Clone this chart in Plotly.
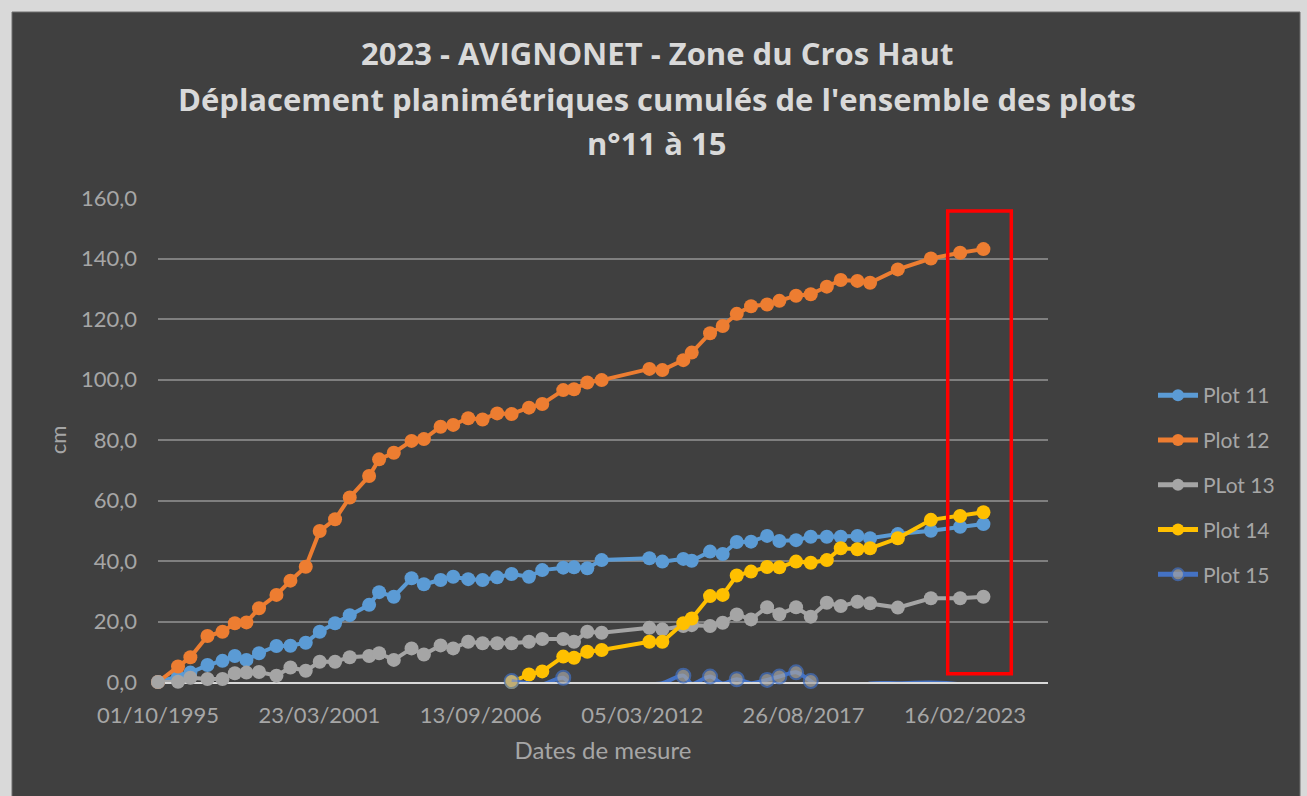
import plotly.graph_objects as go

# ---------------- data ----------------
DATES = [
    "1995-10-01", "1996-06-05", "1996-11-05", "1997-06-05", "1997-12-08", "1998-05-10",
    "1998-10-01", "1999-03-06", "1999-10-08", "2000-03-29", "2000-10-05", "2001-03-27",
    "2001-10-03", "2002-04-03", "2002-11-29", "2003-04-02", "2003-10-01", "2004-05-08",
    "2004-10-08", "2005-05-03", "2005-10-06", "2006-04-10", "2006-10-05", "2007-04-04",
    "2007-09-30", "2008-05-02", "2008-10-14", "2009-07-01", "2009-11-11", "2010-04-25",
    "2010-10-20", "2012-06-02", "2012-11-10", "2013-07-28", "2013-11-09", "2014-06-24",
    "2014-11-28", "2015-05-21", "2015-11-14", "2016-05-31", "2016-10-30", "2017-05-25",
    "2017-11-23", "2018-06-10", "2018-11-30", "2019-06-24", "2019-11-28", "2020-11-06",
    "2021-12-21", "2022-12-18", "2023-10-03",
]

PLOT_11 = [
    0.0, 1.8, 3.1, 5.6, 7.0, 8.6, 7.3, 9.5, 11.9, 12.0, 13.0, 16.6, 19.4, 22.1, 25.5,
    29.7, 28.2, 34.3, 32.3, 33.7, 34.8, 34.0, 33.7, 34.6, 35.7, 34.8, 37.0, 37.8, 37.9,
    37.6, 40.3, 40.9, 39.8, 40.7, 40.1, 43.1, 42.3, 46.3, 46.4, 48.3, 46.6, 46.9, 48.0,
    48.0, 48.0, 48.3, 47.5, 48.9, 50.0, 51.3, 52.2,
]
PLOT_12 = [
    0.0, 5.1, 8.2, 15.2, 16.6, 19.4, 19.7, 24.4, 28.8, 33.5, 38.1, 49.9, 53.8, 61.0, 68.1,
    73.6, 75.8, 79.7, 80.3, 84.4, 85.0, 87.2, 86.8, 88.8, 88.6, 90.7, 91.9, 96.5, 96.8,
    99.0, 99.8, 103.5, 103.1, 106.4, 108.9, 115.3, 117.7, 121.7, 124.2, 124.8, 126.0,
    127.7, 128.2, 130.7, 132.9, 132.6, 132.0, 136.4, 140.0, 141.9, 143.1,
]
PLOT_13 = [
    0.0, 0.1, 1.4, 1.0, 1.0, 2.9, 3.1, 3.3, 2.1, 4.8, 3.7, 6.7, 6.7, 8.2, 8.6, 9.5, 7.3,
    11.1, 9.1, 12.1, 11.1, 13.3, 12.8, 12.8, 12.8, 13.3, 14.2, 14.2, 13.3, 16.6, 16.3,
    17.9, 17.4, 18.5, 18.8, 18.5, 19.6, 22.3, 20.7, 24.7, 22.4, 24.7, 21.6, 26.2, 25.1,
    26.5, 26.0, 24.6, 27.7, 27.7, 28.2,
]
# Plots 14 and 15 start on 2007-09-30 (index 24 of DATES)
DATES_14_15 = DATES[24:]
PLOT_14 = [
    0.0, 2.5, 3.5, 8.4, 8.0, 10.0, 10.6, 13.3, 13.3, 19.4, 21.0, 28.4, 28.8, 35.2, 36.5,
    38.0, 37.9, 39.8, 39.4, 40.3, 44.2, 43.9, 44.2, 47.5, 53.6, 54.9, 56.1,
]
PLOT_15 = [
    0.3, -0.5, -0.8, 1.4, -2.5, -4.0, -3.5, -0.8, -0.4, 2.1, -0.6, 1.8, -0.5, 0.9, -0.4,
    0.7, 1.8, 3.2, 0.3, -3.0, -4.0, -2.0, -0.5, -0.4, -0.2, -0.8, -3.0,
]

SERIES_NAMES = ["Plot 11", "Plot 12", "PLot 13", "Plot 14", "Plot 15"]
X_TICKS = ["1995-10-01", "2001-03-23", "2006-09-13", "2012-03-05", "2017-08-26", "2023-02-16"]
X_TICK_LABELS = ["01/10/1995", "23/03/2001", "13/09/2006", "05/03/2012", "26/08/2017", "16/02/2023"]
Y_TICKS = [0, 20, 40, 60, 80, 100, 120, 140, 160]

TITLE_LINES = [
    "2023 - AVIGNONET - Zone du Cros Haut",
    "Déplacement planimétriques cumulés de l'ensemble des plots",
    "n°11 à 15",
]
X_TITLE = "Dates de mesure"
Y_TITLE = "cm"

# ---------------- style ----------------
W, H = 1307, 796
L, R, T, B = 158, 1048, 198, 682   # plot area in pixels
FONT = "Lato"
TXT = "#A6A6A6"
BG = "#404040"


def px_x(px):
    return (px - L) / (R - L)


def px_y(py):
    return (B - py) / (B - T)


fig = go.Figure()

colors = ["#5B9BD5", "#ED7D31", "#A5A5A5", "#FFC000", "#4472C4"]
xs = [DATES, DATES, DATES, DATES_14_15, DATES_14_15]
ys = [PLOT_11, PLOT_12, PLOT_13, PLOT_14, PLOT_15]

for i, (name, x, y, c) in enumerate(zip(SERIES_NAMES, xs, ys, colors)):
    if i < 4:
        marker = dict(size=14, color=c, line=dict(width=0))
        line = dict(color=c, width=4)
    else:
        # points outside the axis range show no marker (as in the source chart)
        sizes = [14 if v >= 0 else 0 for v in y]
        widths = [2 if v >= 0 else 0 for v in y]
        marker = dict(size=sizes, color="#A5A5A5", line=dict(color=c, width=widths))
        line = dict(color=c, width=4, shape="spline", smoothing=0.8)
    fig.add_trace(go.Scatter(
        x=x, y=y, name=name, mode="lines+markers",
        line=line, marker=marker, cliponaxis=False,
        legendgroup=name,
    ))

shapes = [
    # dark chart area inside the light frame
    dict(type="rect", xref="paper", yref="paper", layer="below",
         x0=px_x(12), x1=px_x(1300), y0=px_y(800), y1=px_y(12),
         fillcolor=BG, line=dict(color="#6E6E6E", width=1)),
    # red highlight box
    dict(type="rect", xref="paper", yref="paper", layer="above",
         x0=px_x(947.7), x1=px_x(1011.3), y0=px_y(673.7), y1=px_y(211),
         fillcolor="rgba(0,0,0,0)", line=dict(color="#FF0000", width=3.5)),
]

title_y = [53, 99, 143]
annotations = [
    dict(text=f"<b>{t}</b>", xref="paper", yref="paper", x=px_x(656.5), y=px_y(py),
         xanchor="center", yanchor="middle", showarrow=False,
         font=dict(family="Open Sans", size=31, color="#D9D9D9"))
    for t, py in zip(TITLE_LINES, title_y)
]

fig.update_layout(
    width=W, height=H,
    margin=dict(l=L, r=W - R, t=T, b=H - B, pad=0),
    paper_bgcolor="#D9D9D9",
    plot_bgcolor=BG,
    separators=", ",
    font=dict(family=FONT, size=21, color=TXT),
    showlegend=True,
    legend=dict(
        x=px_x(1153), y=px_y(375), xanchor="left", yanchor="top",
        bgcolor="rgba(0,0,0,0)", font=dict(family=FONT, size=21, color=TXT),
        tracegroupgap=14.5, itemwidth=40, itemsizing="constant",
    ),
    shapes=shapes,
    annotations=annotations,
    xaxis=dict(
        type="date",
        range=["1995-10-01", "2025-12-11"],
        tickvals=X_TICKS, ticktext=X_TICK_LABELS,
        showgrid=False, zeroline=False,
        showline=True, linecolor="#D9D9D9", linewidth=2,
        ticks="", ticklabelstandoff=13,
        tickfont=dict(family=FONT, size=22, color=TXT),
        title=dict(text=X_TITLE, font=dict(family=FONT, size=24, color=TXT), standoff=15),
        layer="below traces",
    ),
    yaxis=dict(
        range=[0, 160], tickvals=Y_TICKS, tickformat=".1f",
        showgrid=True, gridcolor="#7F7F7F", gridwidth=1.5,
        zeroline=False, showline=False,
        ticks="", ticklabelstandoff=20,
        tickfont=dict(family=FONT, size=22, color=TXT),
        title=dict(text=Y_TITLE, font=dict(family=FONT, size=22, color=TXT), standoff=8),
        layer="below traces",
    ),
)

fig.write_html("out.html", config={"displayModeBar": False},
               post_script="document.body.style.margin='0';")
